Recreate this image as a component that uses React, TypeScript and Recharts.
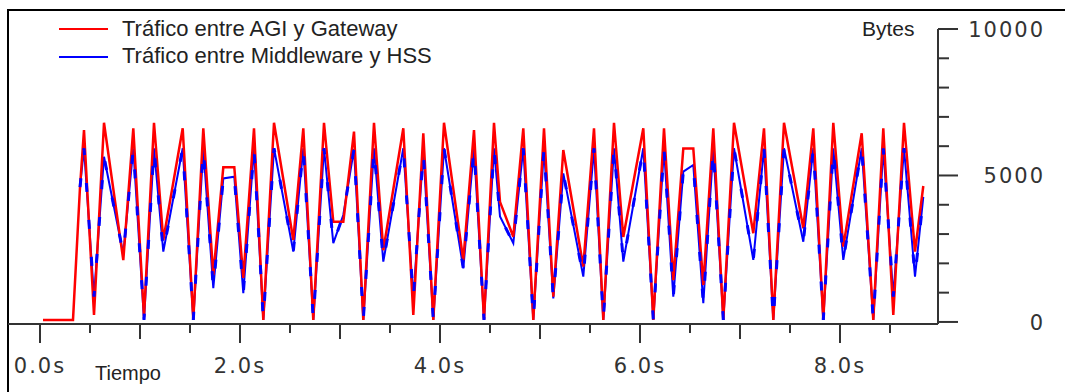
import React from 'react';
import { LineChart, Line, XAxis, YAxis, Legend } from 'recharts';

// tiempo en segundos, valores en bytes
const tiempo = [
  0.03, 0.33, 0.4, 0.44, 0.54, 0.64, 0.833, 0.933, 1.04, 1.14,
  1.233, 1.427, 1.533, 1.633, 1.733, 1.833, 1.943, 2.033, 2.14, 2.233,
  2.34, 2.533, 2.633, 2.733, 2.84, 2.933, 3.033, 3.14, 3.233, 3.34,
  3.433, 3.633, 3.733, 3.833, 3.933, 4.04, 4.233, 4.34, 4.44, 4.54,
  4.6, 4.733, 4.833, 4.933, 5.04, 5.133, 5.233, 5.433, 5.54, 5.633,
  5.74, 5.833, 6.033, 6.133, 6.24, 6.333, 6.433, 6.533, 6.633, 6.733,
  6.833, 6.94, 7.133, 7.24, 7.333, 7.44, 7.633, 7.733, 7.833, 7.933,
  8.033, 8.217, 8.333, 8.433, 8.533, 8.64, 8.75, 8.833,
];

const traficoAgiGateway = [
  70, 70, 4600, 6550, 240, 6800, 2110, 6610, 180, 6800,
  2800, 6610, 70, 6610, 1600, 5280, 5280, 1500, 6610, 70,
  6800, 2800, 6610, 70, 6800, 3420, 3420, 6500, 70, 6800,
  2450, 6610, 240, 6440, 70, 6800, 2110, 6550, 70, 6800,
  4100, 2910, 6610, 70, 6610, 860, 5870, 1890, 6610, 70,
  6800, 2900, 6610, 70, 6610, 1430, 5920, 5920, 1260, 6610,
  70, 6800, 3030, 6610, 70, 6800, 3200, 6610, 70, 6800,
  2570, 6440, 70, 6610, 240, 6800, 2400, 4640,
];

const traficoMiddlewareHss = [
  null, null, 4600, 5930, 860, 5640, 2320, 5930, 70, 5930,
  2400, 5930, 70, 5930, 1150, 4900, 4960, 980, 5930, 70,
  5930, 2400, 5930, 70, 5930, 2690, 3650, 5900, 70, 5930,
  2060, 5930, 800, 5810, 70, 5930, 1830, 5930, 70, 5930,
  3600, 2690, 5930, 70, 5930, 800, 5070, 1550, 5930, 70,
  5930, 2060, 5930, 70, 5930, 860, 5130, 5360, 640, 5930,
  70, 5930, 2120, 5930, 70, 5930, 2740, 5930, 70, 5930,
  2120, 5930, 70, 5930, 860, 5930, 1550, 4270,
];

const ticksTiempo = [0, 0.5, 1, 1.5, 2, 2.5, 3, 3.5, 4, 4.5, 5, 5.5, 6, 6.5, 7, 7.5, 8, 8.5];
const ticksBytes = [0, 1000, 2000, 3000, 4000, 5000, 6000, 7000, 8000, 9000, 10000];

const series = [
  { nombre: 'Tráfico entre AGI y Gateway', color: '#ff0000' },
  { nombre: 'Tráfico entre Middleware y HSS', color: '#0000ff' },
];

const datos = tiempo.map((t, i) => ({
  t,
  agi: traficoAgiGateway[i],
  hss: traficoMiddlewareHss[i],
}));

const ejeColor = '#333';
const fuenteTicks = '"DejaVu Sans", sans-serif';
const fuenteTexto = '"Liberation Sans", Arial, sans-serif';

const TickTiempo = (props: any) => {
  const { x, y, payload } = props;
  const v = payload.value;
  const largo = v % 2 === 0 ? 19 : v % 1 === 0 ? 15 : 9;
  return (
    <g>
      <line x1={x} x2={x} y1={y} y2={y + largo} stroke={ejeColor} strokeWidth={2} />
      {v % 2 === 0 && (
        <text x={x} y={y + 49} textAnchor="middle" fill={ejeColor} fontSize={21}
          fontFamily={fuenteTicks} letterSpacing={2}>
          {v.toFixed(1) + 's'}
        </text>
      )}
    </g>
  );
};

const TickBytes = (props: any) => {
  const { x, y, payload } = props;
  const v = payload.value;
  const mayor = v % 5000 === 0;
  return (
    <g>
      <line x1={x} x2={x + (mayor ? 20 : 11)} y1={y} y2={y} stroke={ejeColor} strokeWidth={2} />
      {mayor && (
        <text x={x + 107} y={y + 8} textAnchor="end" fill={ejeColor} fontSize={21}
          fontFamily={fuenteTicks} letterSpacing={2}>
          {v}
        </text>
      )}
    </g>
  );
};

const Leyenda = () => (
  <svg width={460} height={75}>
    {series.map((s, i) => (
      <g key={s.nombre}>
        <line x1={59} x2={108} y1={29 + i * 28} y2={29 + i * 28} stroke={s.color} strokeWidth={2} />
        <text x={122} y={36 + i * 27} fontSize={22} fontFamily={fuenteTexto} fill="#222">
          {s.nombre}
        </text>
      </g>
    ))}
  </svg>
);

const App = () => {
  return (
    <div style={{ position: 'relative', width: 1065, height: 392, overflow: 'hidden', background: '#fff' }}>
      <style>{'body{margin:0;overflow:hidden}'}</style>
      <div style={{ position: 'absolute', left: 7, top: 9, right: 0, bottom: 0,
        borderTop: '2px solid #000', borderLeft: '2px solid #000' }} />
      <div style={{ position: 'absolute', left: 0, top: 0 }}>
        <LineChart width={1065} height={392} data={datos}
          margin={{ top: 29, right: 0, bottom: 0, left: 8 }}>
          <XAxis dataKey="t" type="number" domain={[-0.32, 8.98]} ticks={ticksTiempo}
            height={68} interval={0} tickSize={0} tickMargin={0} tickLine={false}
            axisLine={{ stroke: ejeColor, strokeWidth: 2 }} tick={<TickTiempo />} />
          <YAxis orientation="right" type="number" domain={[-70, 10000]} ticks={ticksBytes}
            width={127} interval={0} tickSize={0} tickMargin={0} tickLine={false}
            axisLine={{ stroke: ejeColor, strokeWidth: 2 }} tick={<TickBytes />} />
          <Legend layout="horizontal" verticalAlign="middle" align="center"
            wrapperStyle={{ left: 0, top: 0, width: 460, height: 75 }} content={<Leyenda />} />
          <Line dataKey="hss" name={series[1].nombre} type="linear" stroke="#0000ff" strokeWidth={2}
            dot={false} activeDot={false} isAnimationActive={false} />
          <Line dataKey="agi" name={series[0].nombre} type="linear" stroke="#ff0000" strokeWidth={2.5}
            dot={false} activeDot={false} isAnimationActive={false} />
          <Line dataKey="hss" name="hss-trazos" type="linear" stroke="#0000ff" strokeWidth={3}
            strokeDasharray="9 28" legendType="none" dot={false} activeDot={false}
            isAnimationActive={false} />
        </LineChart>
      </div>
      <svg width={1065} height={392} style={{ position: 'absolute', left: 0, top: 0, pointerEvents: 'none' }}>
        <text x={95} y={380} fontSize={20} fontFamily={fuenteTexto} fill="#222">Tiempo</text>
        <text x={862} y={36} fontSize={21} fontFamily={fuenteTexto} fill="#222">Bytes</text>
      </svg>
    </div>
  );
};

export default App;
